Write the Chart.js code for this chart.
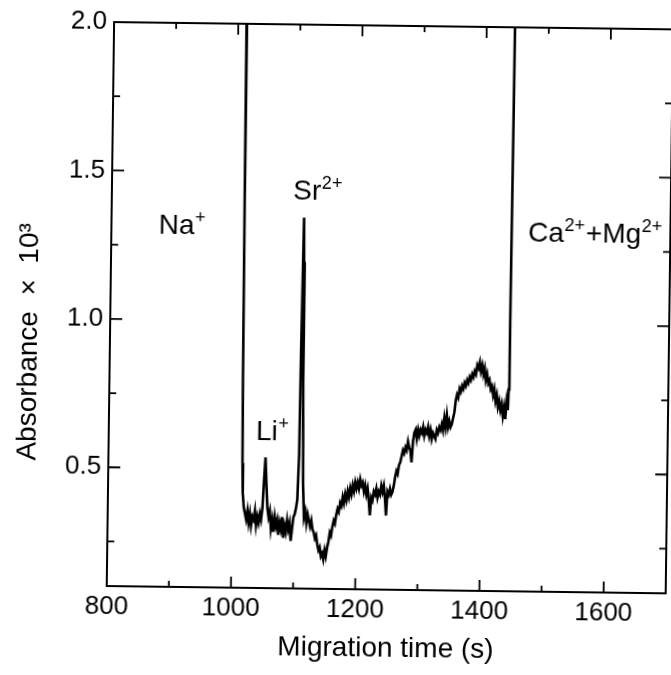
<!DOCTYPE html>
<html>
<head>
<meta charset="utf-8">
<script src="https://cdn.jsdelivr.net/npm/chart.js@4"></script>
<style>
  html, body { margin: 0; padding: 0; background: #fff; }
  #wrap { width: 671px; height: 675px; }
  /* the scanned figure is turned slightly clockwise */
  #chart { transform: rotate(0.75deg); transform-origin: 50% 50%; }
</style>
</head>
<body>
<div id="wrap"><canvas id="chart" width="671" height="675"></canvas></div>
<script>
// migration time (s) and absorbance x 10^3
const times = [
  1008, 1013, 1014, 1015, 1016, 1017, 1019, 1021, 1023, 1025, 1027, 1029, 1031, 1033, 1035, 1037, 1039, 1041, 1043, 1045,
  1047, 1049, 1051, 1053, 1055, 1057, 1059, 1061, 1063, 1065, 1067, 1069, 1071, 1073, 1075, 1077, 1079, 1081, 1083, 1085,
  1087, 1089, 1091, 1093, 1095, 1097, 1099, 1101, 1103, 1105, 1107, 1108, 1110, 1111, 1112, 1114, 1116, 1118, 1120, 1122,
  1124, 1126, 1128, 1130, 1132, 1134, 1136, 1138, 1140, 1142, 1144, 1146, 1148, 1150, 1152, 1154, 1156, 1158, 1160, 1162,
  1164, 1166, 1168, 1170, 1172, 1174, 1176, 1178, 1180, 1182, 1184, 1186, 1188, 1190, 1192, 1194, 1196, 1198, 1200, 1202,
  1204, 1206, 1208, 1210, 1212, 1214, 1216, 1218, 1220, 1222, 1224, 1226, 1228, 1230, 1232, 1234, 1236, 1238, 1240, 1242,
  1244, 1246, 1248, 1250, 1252, 1254, 1256, 1258, 1260, 1262, 1264, 1266, 1268, 1270, 1272, 1274, 1276, 1278, 1280, 1282,
  1284, 1286, 1288, 1290, 1292, 1294, 1296, 1298, 1300, 1302, 1304, 1306, 1308, 1310, 1312, 1314, 1316, 1318, 1320, 1322,
  1324, 1326, 1328, 1330, 1332, 1334, 1336, 1338, 1340, 1342, 1344, 1346, 1348, 1350, 1352, 1354, 1356, 1358, 1360, 1362,
  1364, 1366, 1368, 1370, 1372, 1374, 1376, 1378, 1380, 1382, 1384, 1386, 1388, 1390, 1392, 1394, 1396, 1398, 1400, 1402,
  1404, 1406, 1408, 1410, 1412, 1414, 1416, 1418, 1420, 1422, 1424, 1426, 1428, 1430, 1432, 1434, 1436, 1438, 1440, 1442,
  1443, 1444, 1445, 1446
];
const absorbance = [
  2.3, 2.3, 1.4, 0.8, 0.52, 0.42, 0.37, 0.35, 0.33, 0.36, 0.32, 0.35, 0.31, 0.34, 0.33, 0.36, 0.31, 0.34, 0.32, 0.35,
  0.33, 0.37, 0.46, 0.54, 0.45, 0.37, 0.34, 0.36, 0.30, 0.33, 0.29, 0.34, 0.31, 0.33, 0.28, 0.32, 0.30, 0.34, 0.27, 0.31,
  0.29, 0.33, 0.30, 0.32, 0.26, 0.30, 0.34, 0.35, 0.37, 0.40, 0.55, 0.90, 1.35, 1.20, 0.80, 0.45, 0.34, 0.36, 0.32, 0.35,
  0.33, 0.31, 0.33, 0.30, 0.29, 0.27, 0.28, 0.25, 0.23, 0.24, 0.21, 0.22, 0.20, 0.23, 0.21, 0.24, 0.26, 0.29, 0.28, 0.31,
  0.33, 0.32, 0.35, 0.37, 0.36, 0.39, 0.38, 0.41, 0.39, 0.42, 0.40, 0.43, 0.41, 0.44, 0.42, 0.45, 0.43, 0.46, 0.44, 0.46,
  0.44, 0.47, 0.45, 0.46, 0.43, 0.45, 0.42, 0.44, 0.40, 0.35, 0.41, 0.40, 0.43, 0.42, 0.44, 0.41, 0.43, 0.42, 0.45, 0.43,
  0.45, 0.41, 0.35, 0.43, 0.42, 0.44, 0.42, 0.43, 0.45, 0.48, 0.50, 0.49, 0.52, 0.53, 0.55, 0.57, 0.56, 0.58, 0.57, 0.60,
  0.58, 0.57, 0.53, 0.60, 0.63, 0.64, 0.61, 0.64, 0.62, 0.64, 0.63, 0.65, 0.62, 0.64, 0.63, 0.65, 0.62, 0.64, 0.61, 0.63,
  0.62, 0.61, 0.64, 0.63, 0.65, 0.64, 0.66, 0.64, 0.68, 0.65, 0.69, 0.65, 0.67, 0.65, 0.66, 0.68, 0.70, 0.74, 0.76, 0.75,
  0.78, 0.77, 0.79, 0.78, 0.80, 0.79, 0.81, 0.80, 0.82, 0.81, 0.83, 0.82, 0.84, 0.83, 0.86, 0.85, 0.87, 0.84, 0.86, 0.83,
  0.85, 0.81, 0.83, 0.80, 0.81, 0.78, 0.79, 0.76, 0.78, 0.74, 0.76, 0.72, 0.74, 0.71, 0.73, 0.69, 0.72, 0.68, 0.74, 0.71,
  0.78, 1.0, 1.6, 2.3
];

const xTicks = [800, 1000, 1200, 1400, 1600];
const xMinorTicks = [900, 1100, 1300, 1500, 1700];
const yTicks = [0.5, 1.0, 1.5, 2.0];
const yMinorTicks = [0.25, 0.75, 1.25, 1.75];

// peak names: [text, superscript?] parts, anchored at (time, absorbance)
const ionLabels = [
  { parts: [['Na', false], ['+', true]], t: 876, a: 1.29 },
  { parts: [['Li', false], ['+', true]], t: 1037, a: 0.60 },
  { parts: [['Sr', false], ['2+', true]], t: 1092, a: 1.41 },
  { parts: [['Ca', false], ['2+', true], ['+Mg', false], ['2+', true]], t: 1471, a: 1.28 }
];

const FONT = "'Liberation Sans', Arial, sans-serif";
Chart.defaults.font.family = FONT;
Chart.defaults.color = '#000';

const frameAndLabels = {
  id: 'frameAndLabels',
  afterDraw(chart) {
    const { ctx, chartArea: a, scales: { x, y } } = chart;
    ctx.save();
    ctx.strokeStyle = '#000';
    ctx.lineWidth = 2;
    ctx.strokeRect(a.left, a.top, a.right - a.left, a.bottom - a.top);

    // inward ticks on all four sides
    ctx.lineWidth = 1.8;
    ctx.beginPath();
    const xMark = (t, len) => {
      const px = x.getPixelForValue(t);
      ctx.moveTo(px, a.bottom); ctx.lineTo(px, a.bottom - len);
      ctx.moveTo(px, a.top); ctx.lineTo(px, a.top + len);
    };
    const yMark = (v, len) => {
      const py = y.getPixelForValue(v);
      ctx.moveTo(a.left, py); ctx.lineTo(a.left + len, py);
      ctx.moveTo(a.right, py); ctx.lineTo(a.right - len, py);
    };
    xTicks.forEach(t => xMark(t, 11));
    xMinorTicks.forEach(t => xMark(t, 6));
    yTicks.forEach(v => yMark(v, 12));
    yMinorTicks.forEach(v => yMark(v, 7));
    ctx.stroke();

    // ion names
    ctx.fillStyle = '#000';
    ctx.textBaseline = 'alphabetic';
    ctx.textAlign = 'left';
    ionLabels.forEach(l => {
      let px = x.getPixelForValue(l.t);
      const py = y.getPixelForValue(l.a);
      l.parts.forEach(([txt, sup]) => {
        ctx.font = (sup ? '18px ' : '28px ') + FONT;
        ctx.fillText(txt, px, sup ? py - 11 : py);
        px += ctx.measureText(txt).width + (sup ? 1 : 0.5);
      });
    });
    ctx.restore();
  }
};

new Chart(document.getElementById('chart'), {
  type: 'line',
  data: {
    datasets: [{
      data: times.map((t, i) => ({ x: t, y: absorbance[i] })),
      borderColor: '#000',
      borderWidth: 2.6,
      pointRadius: 0,
      tension: 0,
      fill: false
    }]
  },
  options: {
    responsive: false,
    animation: false,
    layout: { padding: { top: 25, right: 2, left: 0, bottom: 0 } },
    plugins: { legend: { display: false }, tooltip: { enabled: false } },
    scales: {
      x: {
        type: 'linear',
        min: 800,
        max: 1700,
        afterBuildTicks: s => { s.ticks = xTicks.map(v => ({ value: v })); },
        afterFit: s => { s.height = 86; },
        grid: { display: false, drawTicks: false },
        border: { display: false },
        ticks: { font: { size: 26 }, padding: 5, maxRotation: 0, callback: v => String(v) },
        title: { display: true, text: 'Migration time (s)', font: { size: 28 }, padding: { top: 0, bottom: 10 } }
      },
      y: {
        type: 'linear',
        min: 0.1,
        max: 2.0,
        afterBuildTicks: s => { s.ticks = yTicks.map(v => ({ value: v })); },
        afterFit: s => { s.width = 110; },
        grid: { display: false, drawTicks: false },
        border: { display: false },
        ticks: { font: { size: 26 }, padding: 7, callback: v => v.toFixed(1) },
        title: {
          display: true,
          text: 'Absorbance\u00a0\u00a0×\u00a0\u00a010³' + '\u00a0'.repeat(10),
          font: { size: 28 },
          padding: { top: 12, bottom: 0 }
        }
      }
    }
  },
  plugins: [frameAndLabels]
});
</script>
</body>
</html>
